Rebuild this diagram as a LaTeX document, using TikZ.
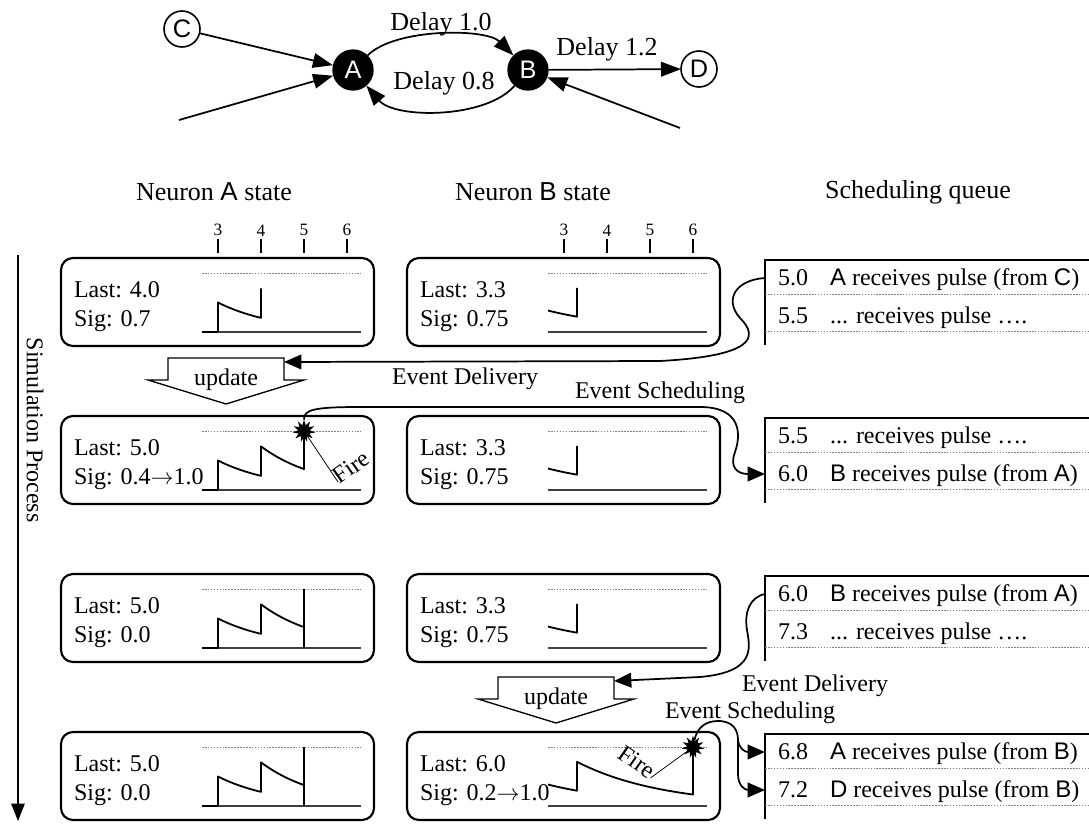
\documentclass[tikz,border=0pt]{standalone}
\usepackage{fontspec}
\setmainfont{Liberation Serif}
\newfontfamily\sansltr{Liberation Sans}
\usetikzlibrary{arrows.meta,shapes.geometric}

\tikzset{
  every node/.style={inner sep=0pt, outer sep=0pt},
  txt/.style={font=\fontsize{18}{21}\selectfont},
  colhead/.style={font=\fontsize{19.5}{23}\selectfont},
  dlabel/.style={font=\fontsize{19.5}{23}\selectfont},
  ticklbl/.style={font=\fontsize{13}{15}\selectfont},
  tickmark/.style={line width=1pt},
  neuron/.style={circle, fill=black, text=white, minimum size=31pt, font=\sansltr\fontsize{19}{21}\selectfont},
  extern/.style={circle, draw, fill=white, line width=1.2pt, minimum size=27pt, font=\sansltr\fontsize{19}{21}\selectfont},
  syn/.style={line width=1.3pt, -{Triangle[length=15pt,width=11pt]}},
  statebox/.style={draw, line width=1.6pt, rounded corners=9pt},
  thresh/.style={gray, line width=0.6pt, dash pattern=on 1.2pt off 1pt},
  plotaxis/.style={black!75, line width=0.9pt},
  wave/.style={line width=1.35pt, line join=round},
  qframe/.style={line width=1.9pt},
  qsep/.style={gray, line width=0.6pt, dash pattern=on 1.2pt off 1pt},
  event/.style={line width=1.3pt, -{Triangle[length=13pt,width=11pt]}},
  eventline/.style={line width=1.3pt},
  burst/.style={star, star points=11, star point ratio=1.9, fill=black, minimum size=17pt},
  updarrow/.style={draw, line width=1pt, fill=white, line join=miter},
  pointer/.style={line width=0.55pt, shorten >=2pt},
}

% neuron state panel: name, left, top, last, sig
\newcommand\nstate[5]{%
  \draw[statebox] ({#2},{#3}) rectangle ({#2+313},{#3+88});
  \node[txt, anchor=base west] (#1-l) at ({#2+13},{#3+39}) {Last: #4};
  \node[txt, anchor=base west] (#1-s) at ({#2+13},{#3+68}) {Sig: #5};
  \draw[thresh] ({#2+141},{#3+15}) -- ({#2+300},{#3+15});
  \draw[plotaxis] ({#2+141},{#3+74}) -- ({#2+300},{#3+74});
}

% queue snapshot: top, name, time1, event1, time2, event2
\newcommand\queuebox[6]{%
  \draw[qframe] (1089,{#1}) -- (765,{#1}) -- (765,{#1+85});
  \draw[qsep] (765,{#1+34}) -- (1089,{#1+34});
  \draw[qsep] (765,{#1+71}) -- (1089,{#1+71});
  \node[txt, anchor=base west] (#2a-t) at (778,{#1+25}) {#3};
  \node[txt, anchor=base west] (#2a) at (830,{#1+25}) {#4};
  \node[txt, anchor=base west] (#2b-t) at (778,{#1+63}) {#5};
  \node[txt, anchor=base west] (#2b) at (830,{#1+63}) {#6};
  \coordinate (#2a-in) at (765,{#1+18});
  \coordinate (#2b-in) at (765,{#1+56});
}

% block arrow labelled "update": name, centre x, top y
\newcommand\updarrow[3]{%
  \draw[updarrow] ({#2-58},{#3}) -- ({#2+58},{#3}) -- ({#2+58},{#3+22}) -- ({#2+78},{#3+22})
     -- ({#2},{#3+46}) -- ({#2-78},{#3+22}) -- ({#2-58},{#3+22}) -- cycle;
  \node[txt] (#1) at ({#2},{#3+22}) {update};
  \coordinate (#1-c) at ({#2+58},{#3+4});
}

\begin{document}
\begin{tikzpicture}[x=0.75pt,y=-0.75pt]
\useasboundingbox (0,0) rectangle (1089,825);
\fill[white] (0,0) rectangle (1089,825);

% ---------------- network ----------------
\node[neuron] (A) at (353,70) {A};
\node[neuron] (B) at (528,70) {B};
\node[extern] (C) at (182,29) {C};
\node[extern] (D) at (699,69) {D};
\coordinate (inA) at (179,120);
\coordinate (inB) at (680,128);
\draw[syn] (C) -- (A);
\draw[syn] (inA) -- (A);
\draw[syn] (A) .. controls (395,28) and (486,28) .. (B);
\draw[syn] (B) .. controls (486,119) and (395,119) .. (A);
\draw[syn] (B) -- (D);
\draw[syn] (inB) -- (B);
\node[dlabel] (d10) at (441,24) {Delay 1.0};
\node[dlabel] (d08) at (444,83) {Delay 0.8};
\node[dlabel] (d12) at (607,49) {Delay 1.2};

% ---------------- headers ----------------
\node[colhead] (hA) at (214,192) {Neuron {\sansltr A} state};
\node[colhead] (hB) at (533,192) {Neuron {\sansltr B} state};
\node[colhead] (hQ) at (918,192) {Scheduling queue};
\foreach \k/\tv in {0/3,1/4,2/5,3/6} {
  \node[ticklbl, anchor=south] (tA\tv) at ({218+43*\k},236) {\tv};
  \draw[tickmark] ({218+43*\k},239) -- ({218+43*\k},253);
  \node[ticklbl, anchor=south] (tB\tv) at ({564+43*\k},236) {\tv};
  \draw[tickmark] ({564+43*\k},239) -- ({564+43*\k},253);
}

% ---------------- time axis ----------------
\coordinate (simtop) at (18,255);
\coordinate (simend) at (18,821);
\draw[line width=1.3pt, -{Triangle[length=13pt,width=10pt]}] (simtop) -- (simend);
\node[txt, rotate=-90] (sim) at (35,430) {Simulation Process};

% ---------------- neuron states ----------------
\nstate{a1}{61}{258}{4.0}{0.7}
\nstate{b1}{407}{258}{3.3}{0.75}
\nstate{a2}{61}{416}{5.0}{0.4$\rightarrow$1.0}
\nstate{b2}{407}{416}{3.3}{0.75}
\nstate{a3}{61}{574}{5.0}{0.0}
\nstate{b3}{407}{574}{3.3}{0.75}
\nstate{a4}{61}{732}{5.0}{0.0}
\nstate{b4}{407}{732}{6.0}{0.2$\rightarrow$1.0}

% membrane traces of neuron A
\begin{scope}[shift={(61,258)}]
  \draw[wave] (141,74) -- (157,74) -- (157,44.5)
    -- plot[domain=0:1,samples=20] ({157+43*\x},{74-29.5*exp(-\x/1.36)}) -- (200,30.36);
\end{scope}
\begin{scope}[shift={(61,416)}]
  \draw[wave] (141,74) -- (157,74) -- (157,44.5)
    -- plot[domain=0:1,samples=20] ({157+43*\x},{74-29.5*exp(-\x/1.36)}) -- (200,30.36)
    -- plot[domain=0:1,samples=20] ({200+43*\x},{74-43.64*exp(-\x/1.36)}) -- (243,15);
  \node[burst] (fA) at (243,15) {};
\end{scope}
\begin{scope}[shift={(61,574)}]
  \draw[wave] (141,74) -- (157,74) -- (157,44.5)
    -- plot[domain=0:1,samples=20] ({157+43*\x},{74-29.5*exp(-\x/1.36)}) -- (200,30.36)
    -- plot[domain=0:1,samples=20] ({200+43*\x},{74-43.64*exp(-\x/1.36)});
  \draw[wave] (243,15) -- (243,74);
\end{scope}
\begin{scope}[shift={(61,732)}]
  \draw[wave] (141,74) -- (157,74) -- (157,44.5)
    -- plot[domain=0:1,samples=20] ({157+43*\x},{74-29.5*exp(-\x/1.36)}) -- (200,30.36)
    -- plot[domain=0:1,samples=20] ({200+43*\x},{74-43.64*exp(-\x/1.36)});
  \draw[wave] (243,15) -- (243,74);
\end{scope}

% membrane traces of neuron B
\foreach \tp in {258,416,574} {
  \begin{scope}[shift={(407,\tp)}]
    \draw[wave] plot[domain=2.628:3.3,samples=12] ({157+43*(\x-3)},{74-15.34*exp(-(\x-3.3)/2)}) -- (169.9,29.75);
  \end{scope}
}
\begin{scope}[shift={(407,732)}]
  \draw[wave] plot[domain=2.628:3.3,samples=12] ({157+43*(\x-3)},{74-15.34*exp(-(\x-3.3)/2)}) -- (169.9,29.75)
    -- plot[domain=3.3:6,samples=30] ({157+43*(\x-3)},{74-44.25*exp(-(\x-3.3)/2)}) -- (286,15);
  \node[burst] (fB) at (286,15) {};
\end{scope}

\node[txt, rotate=35] (fire1) at (351,467) {Fire};
\draw[pointer] (fA) -- (fire1.base west);
\node[txt, rotate=-35] (fire2) at (637,762) {Fire};
\draw[pointer] (fB) -- (fire2.base east);

% ---------------- scheduling queue ----------------
\queuebox{260}{q1}{5.0}{{\sansltr A} receives pulse (from {\sansltr C})}{5.5}{... receives pulse ….}
\queuebox{418}{q2}{5.5}{... receives pulse ….}{6.0}{{\sansltr B} receives pulse (from {\sansltr A})}
\queuebox{576}{q3}{6.0}{{\sansltr B} receives pulse (from {\sansltr A})}{7.3}{... receives pulse ….}
\queuebox{734}{q4}{6.8}{{\sansltr A} receives pulse (from {\sansltr B})}{7.2}{{\sansltr D} receives pulse (from {\sansltr B})}

% ---------------- update steps ----------------
\updarrow{u1}{226}{358}
\updarrow{u2}{556}{677}

% ---------------- event flow ----------------
\draw[event] (q1a-in) .. controls (735,280) and (724,300) .. (740,318)
   .. controls (760,338) and (752,356) .. (660,361) -- (u1-c);
\node[txt] (ed1) at (465,379) {Event Delivery};

\draw[event] (fA) .. controls (304,410) and (312,407) .. (360,407) -- (700,407)
   .. controls (742,407) and (741,435) .. (735,452)
   .. controls (729,468) and (738,474) .. (q2b-in);
\node[txt] (es1) at (660,393) {Event Scheduling};

\draw[event] (q3a-in) .. controls (750,597) and (744,612) .. (747,630)
   .. controls (750,648) and (756,672) .. (700,677) -- (u2-c);
\node[txt] (ed2) at (815,686) {Event Delivery};

\coordinate (split) at (738,740);
\draw[eventline] (fB) .. controls (697,728) and (705,721) .. (718,721)
   .. controls (733,721) and (738,730) .. (split);
\draw[event] (split) .. controls (739,749) and (745,752) .. (q4a-in);
\draw[event] (split) -- (738,774) .. controls (738,786) and (745,790) .. (q4b-in);
\node[txt] (es2) at (750,713) {Event Scheduling};

\end{tikzpicture}
\end{document}
